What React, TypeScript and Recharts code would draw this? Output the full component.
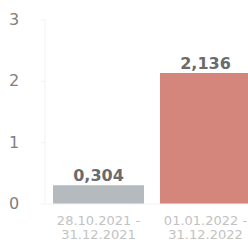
import React from "react";
import { BarChart, Bar, XAxis, YAxis, Cell, LabelList } from "recharts";

const periods = ["28.10.2021 -|31.12.2021", "01.01.2022 -|31.12.2022"];
const values = [0.304, 2.136];
const colors = ["#b5babf", "#d4867d"];
const yTicks = [0, 1, 2, 3];

const data = periods.map((p, i) => ({ period: p, value: values[i] }));

const YTick = (props: any) => {
  const { y, payload } = props;
  return (
    <text x={14} y={y} dy={5} textAnchor="middle" fill="#808080" fontSize={16} fontFamily="DejaVu Sans">
      {payload.value}
    </text>
  );
};

const XTick = (props: any) => {
  const { x, y, payload } = props;
  const lines = String(payload.value).split("|");
  return (
    <text x={x} textAnchor="middle" fill="#c2c2c2" fontSize={13} fontFamily="DejaVu Sans">
      {lines.map((l, i) => (
        <tspan key={i} x={x} y={y + 13 + i * 13.5}>
          {l}
        </tspan>
      ))}
    </text>
  );
};

const ValueLabel = (props: any) => {
  const { x, y, width, value } = props;
  return (
    <text x={x + width / 2} y={y - 4} textAnchor="middle" fill="#6b6b6b" fontSize={16} fontWeight="bold" fontFamily="DejaVu Sans">
      {Number(value).toFixed(3).replace(".", ",")}
    </text>
  );
};

export default function App() {
  return (
    <div style={{ position: "absolute", left: 0, top: 0, width: 248, height: 242, overflow: "hidden", background: "#fff" }}>
      <BarChart width={262} height={242} data={data} margin={{ top: 20, right: 3, bottom: 0, left: 0 }}>
        <YAxis
          domain={[0, 3]}
          ticks={yTicks}
          width={45}
          axisLine={{ stroke: "#f2f2f2" }}
          tickLine={{ stroke: "#f2f2f2" }}
          tickSize={4}
          tick={<YTick />}
        />
        <XAxis dataKey="period" height={38} axisLine={{ stroke: "#f2f2f2" }} tickLine={false} tick={<XTick />} interval={0} />
        <Bar dataKey="value" barSize={91} isAnimationActive={false}>
          {data.map((d, i) => (
            <Cell key={i} fill={colors[i]} />
          ))}
          <LabelList dataKey="value" content={<ValueLabel />} />
        </Bar>
      </BarChart>
    </div>
  );
}
